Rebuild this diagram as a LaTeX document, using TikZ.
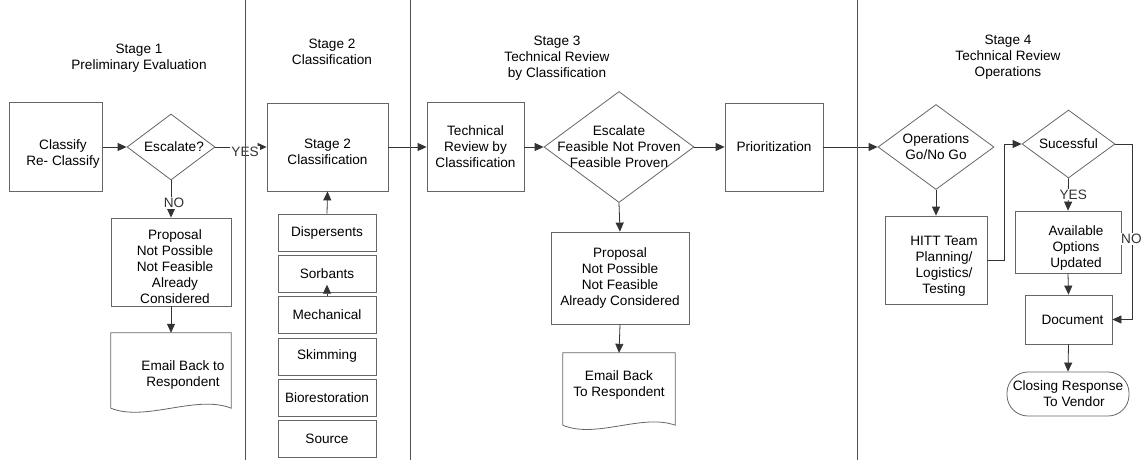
\documentclass[tikz,border=0pt]{standalone}
\usepackage{fontspec}
\setmainfont{Liberation Sans}
\usetikzlibrary{shapes,positioning,arrows.meta}
\definecolor{boxgray}{HTML}{666666}
\definecolor{sepgray}{HTML}{505050}
\begin{document}
\begin{tikzpicture}[x=1pt,y=-1pt,
  font=\fontsize{13.6}{16}\selectfont,
  box/.style={draw=boxgray, line width=0.8pt, align=center, inner sep=2pt},
  dia/.style={draw=boxgray, line width=0.8pt, diamond, inner sep=0pt},
  item/.style={box, minimum width=98, minimum height=37},
  txt/.style={align=center},
  arr/.style={-{Triangle[length=9pt,width=8pt]}, line width=0.8pt, black!80},
  flow/.style={line width=0.8pt, black!80},
  docline/.style={draw=boxgray, line width=0.8pt},
  yn/.style={fill=white, inner sep=1pt},
  sep/.style={sepgray, line width=1pt},
]
\clip (0,0) rectangle (1143,460);
\fill[white] (0,0) rectangle (1143,460);

\node[txt] (t1) at (139,58) {Stage 1\\Preliminary Evaluation};
\node[txt] (t2) at (332,52) {Stage 2\\Classification};
\node[txt] (t3) at (557,58) {Stage 3\\Technical Review\\by Classification};
\node[txt] (t4) at (1008,57) {Stage 4\\Technical Review\\Operations};

\node[box, minimum width=93, minimum height=89,
  label={[txt, xshift=7, yshift=-7]center:Classify\\Re- Classify}] (cls) at (56,147) {};
\node[dia, minimum width=88, minimum height=66,
  label={[txt, xshift=3]center:Escalate?}] (d1) at (171,147) {};
\node[box, minimum width=120, minimum height=88,
  label={[txt, xshift=4, yshift=-5]center:Proposal\\Not Possible\\Not Feasible\\Already\\Considered}] (prop1) at (171,262) {};
\node[minimum width=120, minimum height=75, inner sep=0pt,
  label={[txt, xshift=12, yshift=-4]center:Email Back to\\Respondent}] (email1) at (171,370.5) {};

\node[box, minimum width=121, minimum height=88,
  label={[txt, yshift=-5]center:Stage 2\\Classification}] (s2) at (327.5,147) {};
\node[item] (disp) at (327,232.5) {Dispersents};
\node[item, below=3.5pt of disp] (sorb) {Sorbants};
\node[item, below=3.5pt of sorb] (mech) {Mechanical};
\node[item, below=3.5pt of mech] (skim) {Skimming};
\node[item, below=3.5pt of skim] (bio) {Biorestoration};
\node[item, below=3.5pt of bio] (src) {Source};

\node[box, minimum width=97, minimum height=89] (tech) at (475.5,147) {Technical\\Review by\\Classification};
\node[dia, minimum width=150, minimum height=111,
  label={[txt]center:Escalate\\Feasible Not Proven\\Feasible Proven}] (d3) at (619,147) {};
\node[box, minimum width=138, minimum height=92] (prop2) at (620,278) {Proposal\\Not Possible\\Not Feasible\\Already Considered};
\node[minimum width=112, minimum height=72, inner sep=0pt,
  label={[txt, yshift=4.5]center:Email Back\\To Respondent}] (email2) at (619,389) {};

\node[box, minimum width=98, minimum height=88] (prio) at (774,147) {Prioritization};

\node[dia, minimum width=116, minimum height=85,
  label={[txt]center:Operations\\Go/No Go}] (ops) at (936,147) {};
\node[box, minimum width=102, minimum height=88,
  label={[txt, xshift=8, yshift=-6]center:HITT Team\\Planning/\\Logistics/\\Testing}] (hitt) at (936,260) {};
\node[dia, minimum width=93, minimum height=68,
  label={[txt]center:Sucessful}] (succ) at (1068.5,144) {};
\node[box, minimum width=106, minimum height=62,
  label={[txt, xshift=8, yshift=-6]center:Available\\Options\\Updated}] (avail) at (1068,242) {};
\node[box, minimum width=87, minimum height=49,
  label={[txt, xshift=4]center:Document}] (doc) at (1068.5,319.5) {};
\node[box, minimum width=122, minimum height=44, rounded corners=21pt] (close) at (1068,394) {Closing Response\\\hspace*{12pt}To Vendor};

\draw[docline] (email1.south west) -- (email1.north west) -- (email1.north east) -- (email1.south east)
  .. controls +(-35,-14) and +(35,14) .. (email1.south west);
\draw[docline] (email2.south west) -- (email2.north west) -- (email2.north east) -- (email2.south east)
  .. controls +(-33,-12) and +(33,14) .. (email2.south west);

\draw[arr] (cls.east) -- (d1.west);
\draw[arr] (d1.east) -- (s2.west) node[yn, pos=0.58, yshift=-5] {YES};
\draw[arr] (d1.south) -- (prop1.north) node[yn, pos=0.6, xshift=3] {NO};
\draw[arr] (prop1.south) -- (email1.north);
\draw[arr] (disp.north) -- (s2.south);
\draw[arr] (mech.north) -- ([yshift=8pt]sorb.south);
\draw[arr] (s2.east) -- (tech.west);
\draw[arr] (tech.east) -- (d3.west);
\draw[arr] (d3.east) -- (prio.west);
\draw[arr] (d3.south) -- (prop2.north);
\draw[arr] (prop2.south) -- (email2.north);
\draw[arr] (prio.east) -- (ops.west);
\draw[arr] (ops.south) -- (hitt.north);
\draw[arr] (hitt.east) -- ++(17,0) |- (succ.west);
\draw[arr] (succ.south) -- (avail.north) node[yn, pos=0.5, xshift=5] {YES};
\draw[arr] (succ.east) -- ++(17,0) |- (doc.east) node[yn, pos=0.27, xshift=-1] {NO};
\draw[arr] (avail.south) -- (doc.north);
\draw[arr] (doc.south) -- (close.north);

\draw[sep] (245,0) -- (245,460);
\draw[sep] (410,0) -- (410,460);
\draw[sep] (857,0) -- (857,460);
\end{tikzpicture}
\end{document}
